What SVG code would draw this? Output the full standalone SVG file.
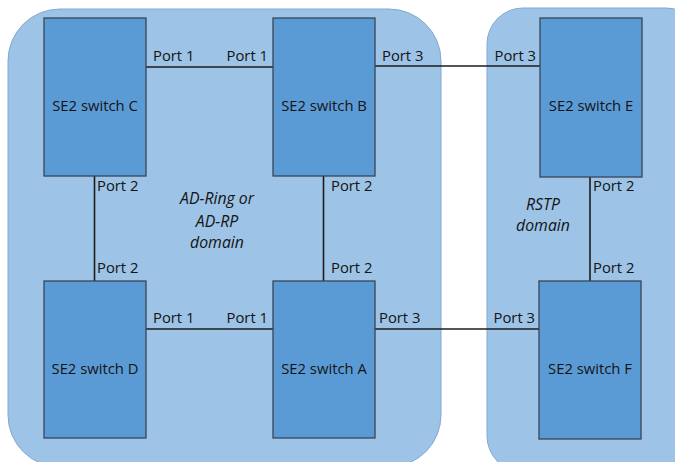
<svg xmlns="http://www.w3.org/2000/svg" width="675" height="462" viewBox="0 0 675 462">
<style>
.dom{fill:#9dc3e6;stroke:#82a9d3;stroke-width:1}
.sw{fill:#5b9bd5;stroke:#3a4656;stroke-width:1.3}
.ln{stroke:#1c1c1c;stroke-width:1.6;fill:none}
text{font-family:"Open Sans","Liberation Sans",sans-serif;font-size:14.8px;fill:#141414}
.c{text-anchor:middle}
.e{text-anchor:end}
.it{font-style:italic;text-anchor:middle;font-size:15.8px}
</style>
<rect width="675" height="462" fill="#ffffff"/>
<g id="domain-adring">
<rect class="dom" x="8" y="9" width="433" height="458" rx="52" ry="52"/>
<text class="it" x="217" y="204">AD-Ring or</text>
<text class="it" x="217" y="227">AD-RP</text>
<text class="it" x="217" y="248">domain</text>
</g>
<g id="domain-rstp">
<rect class="dom" x="487" y="8" width="215" height="464" rx="36" ry="36"/>
<text class="it" x="543" y="210">RSTP</text>
<text class="it" x="543" y="231">domain</text>
</g>
<g id="connectors">
<line class="ln" x1="146" y1="67" x2="273" y2="67"/>
<line class="ln" x1="375" y1="66" x2="540" y2="66"/>
<line class="ln" x1="146" y1="329" x2="273" y2="329"/>
<line class="ln" x1="375" y1="329" x2="539" y2="329"/>
<line class="ln" x1="94.5" y1="176" x2="94.5" y2="281"/>
<line class="ln" x1="323.5" y1="176" x2="323.5" y2="281"/>
<line class="ln" x1="590" y1="177" x2="590" y2="281"/>
<text x="153" y="61">Port 1</text>
<text class="e" x="268" y="61">Port 1</text>
<text x="382" y="61">Port 3</text>
<text class="e" x="536" y="61">Port 3</text>
<text x="97" y="191">Port 2</text>
<text x="331" y="191">Port 2</text>
<text x="593" y="191">Port 2</text>
<text x="97" y="273">Port 2</text>
<text x="331" y="273">Port 2</text>
<text x="593" y="273">Port 2</text>
<text x="153" y="323">Port 1</text>
<text class="e" x="268" y="323">Port 1</text>
<text x="379" y="323">Port 3</text>
<text class="e" x="535" y="323">Port 3</text>
</g>
<g id="switch-c">
<rect class="sw" x="44" y="18" width="102" height="158"/>
<text class="c" x="95" y="111">SE2 switch C</text>
</g>
<g id="switch-b">
<rect class="sw" x="273" y="18" width="102" height="158"/>
<text class="c" x="324" y="111">SE2 switch B</text>
</g>
<g id="switch-e">
<rect class="sw" x="540" y="18" width="102" height="159"/>
<text class="c" x="591" y="111">SE2 switch E</text>
</g>
<g id="switch-d">
<rect class="sw" x="44" y="281" width="102" height="157"/>
<text class="c" x="95" y="374">SE2 switch D</text>
</g>
<g id="switch-a">
<rect class="sw" x="273" y="281" width="102" height="157"/>
<text class="c" x="324" y="374">SE2 switch A</text>
</g>
<g id="switch-f">
<rect class="sw" x="539" y="281" width="102" height="158"/>
<text class="c" x="590" y="374">SE2 switch F</text>
</g>
</svg>
